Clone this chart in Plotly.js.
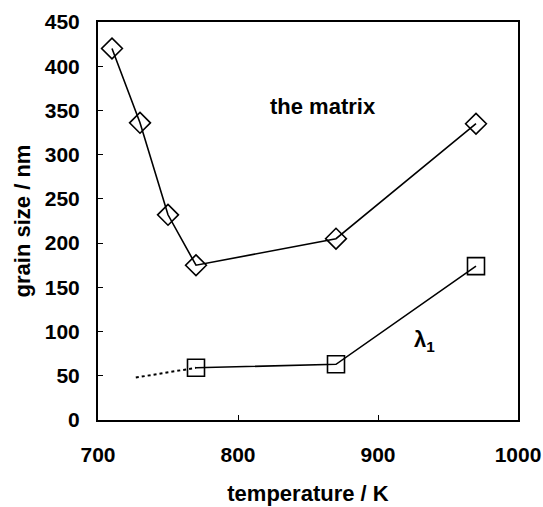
<!DOCTYPE html>
<html><head><meta charset="utf-8">
<script src="https://cdn.plot.ly/plotly-3.0.1.min.js"></script>
<style>html,body{margin:0;padding:0;background:#fff}#c{width:543px;height:507px}</style>
</head><body><div id="c"></div>
<script>
var matrixT = [710, 730, 750, 770, 870, 970];
var matrixSize = [420, 336, 232, 175, 205, 335];
var lambdaT = [770, 870, 970];
var lambdaSize = [59, 63, 174];
var extrapT = [727, 770];
var extrapSize = [48, 59];
var xTicks = [700, 800, 900, 1000];
var yTicks = [0, 50, 100, 150, 200, 250, 300, 350, 400, 450];

var fam = 'Liberation Sans, Arial, sans-serif';
var tickFont = {family: fam, size: 21, color: '#000'};
var titleFont = {family: fam, size: 22, color: '#000'};
var traces = [
  {x: extrapT, y: extrapSize, mode: 'lines', line: {color: '#000', width: 2, dash: 'dot'}, hoverinfo: 'skip'},
  {x: matrixT, y: matrixSize, mode: 'lines+markers', line: {color: '#000', width: 1.6},
   marker: {symbol: 'diamond-open', size: 16, color: '#000', line: {width: 1.6, color: '#000'}}},
  {x: lambdaT, y: lambdaSize, mode: 'lines+markers', line: {color: '#000', width: 1.6},
   marker: {symbol: 'square-open', size: 17, color: '#000', line: {width: 1.6, color: '#000'}}}
];
var layout = {
  width: 543, height: 507, showlegend: false,
  margin: {l: 98, r: 25, t: 22, b: 87},
  paper_bgcolor: '#fff', plot_bgcolor: '#fff',
  font: tickFont,
  xaxis: {range: [700, 1000], tickvals: xTicks, ticktext: xTicks.map(function(v){return '<b>' + v + '</b>';}),
    ticks: 'inside', ticklen: 5, tickcolor: '#000', showline: true, linecolor: '#000', linewidth: 2, mirror: true,
    showgrid: false, zeroline: false, ticklabelstandoff: 15, tickfont: tickFont,
    title: {text: '<b>temperature / K</b>', font: titleFont, standoff: 20}},
  yaxis: {range: [0, 450], tickvals: yTicks, ticktext: yTicks.map(function(v){return '<b>' + v + '</b>';}),
    ticks: 'inside', ticklen: 5, tickcolor: '#000', showline: true, linecolor: '#000', linewidth: 2, mirror: true,
    showgrid: false, zeroline: false, ticklabelstandoff: 12, tickfont: tickFont,
    title: {text: '<b>grain size / nm</b>', font: titleFont, standoff: 8}},
  annotations: [
    {x: 860.5, y: 355, text: '<b>the matrix</b>', showarrow: false, font: titleFont},
    {x: 933, y: 89, text: '<b>λ<sub>1</sub></b>', showarrow: false, font: titleFont}
  ]
};
Plotly.newPlot('c', traces, layout, {displayModeBar: false, staticPlot: true});
</script></body></html>
